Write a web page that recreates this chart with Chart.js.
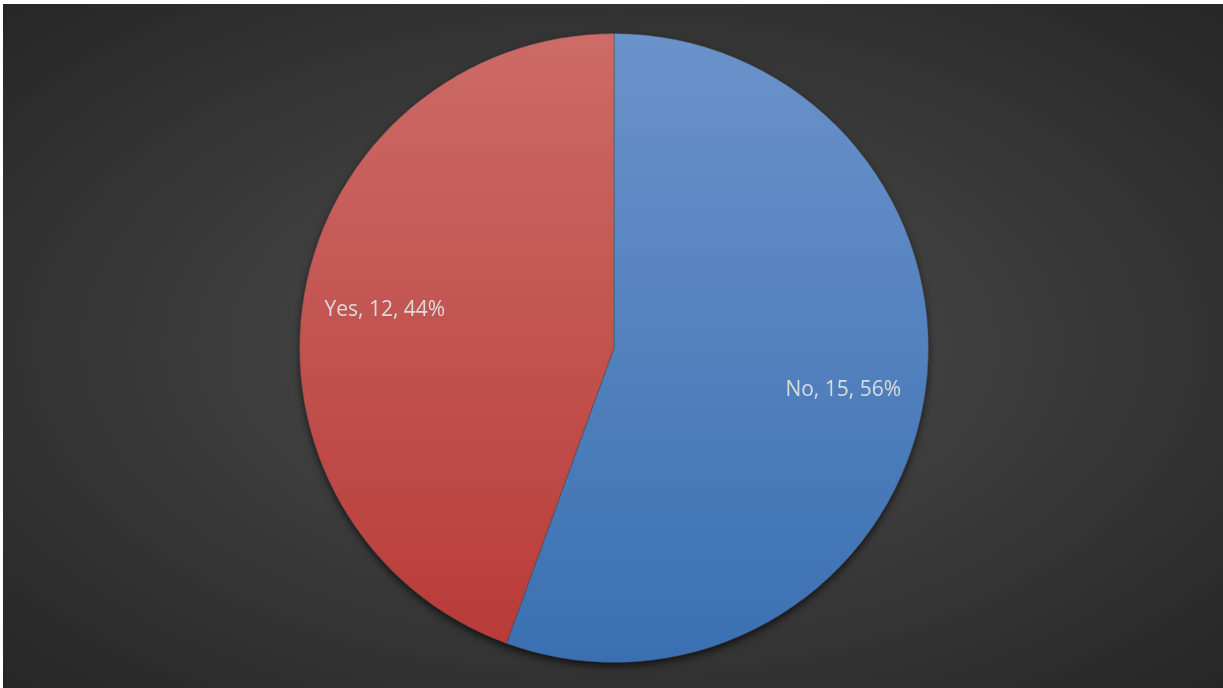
<!DOCTYPE html>
<html>
<head>
<meta charset="utf-8">
<script src="https://cdn.jsdelivr.net/npm/chart.js@4.4.0/dist/chart.umd.min.js"></script>
<style>
  html, body { margin: 0; padding: 0; background: #ffffff; overflow: hidden; }
  #caja {
    position: absolute; left: 3px; top: 4px; width: 1220px; height: 684px;
    background: radial-gradient(ellipse at 50% 50%, #4e4e4e 0%, #3c3c3c 45%, #262626 100%);
  }
</style>
</head>
<body>
<div id="caja"><canvas id="miGrafica" width="1220" height="684"></canvas></div>
<script>
'use strict'

// DATOS DE LA GRÁFICA
const categorias = ['No', 'Yes'];
const valores = [15, 12];
const coloresArriba = ['#6b92ca', '#cc6b67'];
const coloresAbajo = ['#3a70b2', '#b83a37'];

// GRADIENTE VERTICAL PARA CADA PORCIÓN
function degradado(context) {
  const chart = context.chart;
  const area = chart.chartArea;
  if (!area) return coloresAbajo[context.dataIndex];
  const g = chart.ctx.createLinearGradient(0, area.top, 0, area.bottom);
  g.addColorStop(0, coloresArriba[context.dataIndex]);
  g.addColorStop(1, coloresAbajo[context.dataIndex]);
  return g;
}

// SOMBRA DEBAJO DEL CÍRCULO
const sombra = {
  id: 'sombra',
  beforeDatasetsDraw(chart) {
    const arc = chart.getDatasetMeta(0).data[0];
    if (!arc) return;
    const ctx = chart.ctx;
    ctx.save();
    ctx.shadowColor = 'rgba(0,0,0,0.75)';
    ctx.shadowBlur = 9;
    ctx.shadowOffsetY = 4;
    ctx.fillStyle = '#3a3a3a';
    ctx.beginPath();
    ctx.arc(arc.x, arc.y, arc.outerRadius - 1, 0, Math.PI * 2);
    ctx.fill();
    ctx.restore();
  }
};

// ETIQUETAS "Nombre, valor, %"
const etiquetas = {
  id: 'etiquetas',
  afterDatasetsDraw(chart) {
    const ctx = chart.ctx;
    const meta = chart.getDatasetMeta(0);
    const total = valores.reduce((a, b) => a + b, 0);
    ctx.save();
    ctx.font = '21px "Open Sans", "Liberation Sans", sans-serif';
    ctx.fillStyle = '#dcdcdc';
    ctx.textAlign = 'center';
    ctx.textBaseline = 'middle';
    meta.data.forEach((arc, i) => {
      const medio = (arc.startAngle + arc.endAngle) / 2;
      const r = arc.outerRadius * 0.74;
      const x = arc.x + Math.cos(medio) * r;
      const y = arc.y + Math.sin(medio) * r + 2;
      const pct = Math.round(valores[i] / total * 100);
      ctx.fillText(categorias[i] + ', ' + valores[i] + ', ' + pct + '%', x, y);
    });
    ctx.restore();
  }
};

function crearGrafica() {
  const ctx = document.getElementById('miGrafica').getContext('2d');
  new Chart(ctx, {
    type: 'pie',
    data: {
      labels: categorias,
      datasets: [{
        data: valores,
        backgroundColor: degradado,
        borderColor: 'rgba(70,70,70,0.45)',
        borderWidth: 1
      }]
    },
    options: {
      responsive: false,
      animation: false,
      layout: { padding: { top: 29, bottom: 25, left: 2, right: 0 } },
      plugins: {
        legend: { display: false },
        tooltip: { enabled: false }
      }
    },
    plugins: [sombra, etiquetas]
  });
}

crearGrafica();
</script>
</body>
</html>
